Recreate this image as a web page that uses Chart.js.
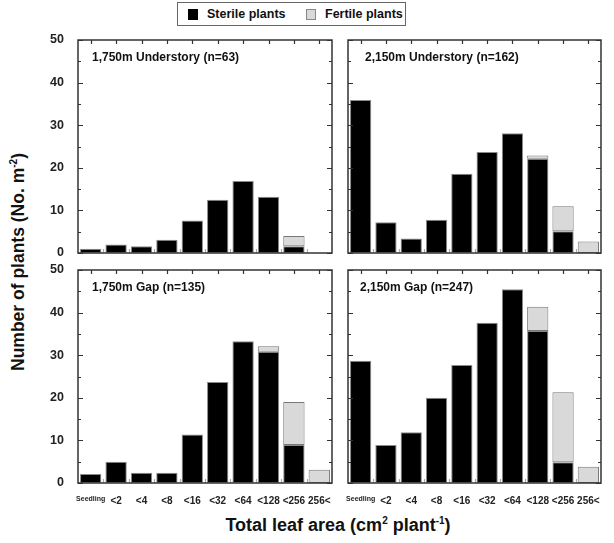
<!DOCTYPE html>
<html>
<head>
<meta charset="utf-8">
<script src="https://cdn.jsdelivr.net/npm/chart.js@4.4.0/dist/chart.umd.min.js"></script>
<style>
  body { margin: 0; background: #fff; }
  #wrap { position: relative; width: 614px; height: 543px; font-family: "Liberation Sans", Arial, sans-serif; font-weight: bold; color: #111; }
  canvas { position: absolute; }
  #legend { position: absolute; left: 177px; top: 2px; width: 227px; height: 22px; border: 1px solid #666; font-size: 12.5px; }
  #legend span { position: absolute; top: 4px; }
  .sw { position: absolute; top: 6px; width: 10px; height: 11px; }
  #ytitle { position: absolute; left: 18px; top: 262px; transform: translate(-50%, -50%) rotate(-90deg); white-space: nowrap; font-size: 17.5px; }
  #xtitle { position: absolute; left: 338px; top: 525px; transform: translate(-50%, -50%); white-space: nowrap; font-size: 18px; }
  sup { font-size: 10px; vertical-align: 7px; }
</style>
</head>
<body>
<div id="wrap">
  <div id="legend">
    <div class="sw" style="left:10px;background:#000"></div><span style="left:29px">Sterile plants</span>
    <div class="sw" style="left:128px;background:#d9d9d9;border:1px solid #888;width:8px;height:9px"></div><span style="left:147px">Fertile plants</span>
  </div>
  <canvas id="c1" width="296" height="229" style="left:40px;top:32px"></canvas>
  <canvas id="c2" width="261" height="229" style="left:344px;top:32px"></canvas>
  <canvas id="c3" width="296" height="243" style="left:40px;top:262px"></canvas>
  <canvas id="c4" width="261" height="243" style="left:344px;top:262px"></canvas>
  <div id="ytitle">Number of plants (No. m<sup>-2</sup>)</div>
  <div id="xtitle">Total leaf area (cm<sup>2</sup> plant<sup>-1</sup>)</div>
</div>
<script>
const categories = ['Seedling', '<2', '<4', '<8', '<16', '<32', '<64', '<128', '<256', '256<'];

// values (No. m-2)
const sterile1750U = [1.0, 2.0, 1.6, 3.1, 7.6, 12.5, 16.9, 13.2, 1.6, 0];
const fertile1750U = [0, 0, 0, 0, 0, 0, 0, 0, 2.4, 0];
const sterile2150U = [35.9, 7.2, 3.4, 7.8, 18.6, 23.7, 28.1, 22.1, 5.1, 0];
const fertile2150U = [0, 0, 0, 0, 0, 0, 0, 0.8, 5.9, 2.7];
const sterile1750G = [2.1, 5.0, 2.4, 2.4, 11.4, 23.7, 33.3, 30.8, 8.9, 0];
const fertile1750G = [0, 0, 0, 0, 0, 0, 0, 1.3, 10.1, 3.1];
const sterile2150G = [28.7, 8.9, 11.9, 20.0, 27.7, 37.6, 45.5, 35.7, 4.9, 0];
const fertile2150G = [0, 0, 0, 0, 0, 0, 0, 5.7, 16.4, 3.8];

const panelLabels = {
  c1: ['1,750m Understory (n=63)', 14],
  c2: ['2,150m Understory (n=162)', 17],
  c3: ['1,750m Gap (n=135)', 14],
  c4: ['2,150m Gap (n=247)', 12]
};

// frame, inward ticks and panel label
const framePlugin = {
  id: 'frame',
  afterDraw(chart) {
    const ctx = chart.ctx;
    const a = chart.chartArea;
    const x = chart.scales.x, y = chart.scales.y;
    ctx.save();
    ctx.strokeStyle = '#333333';
    ctx.lineWidth = 1.2;
    ctx.beginPath();
    for (let v = 0; v <= 50; v += 5) {
      const py = Math.round(y.getPixelForValue(v)) + 0.5;
      const len = v % 10 === 0 ? 5 : 3;
      ctx.moveTo(a.left, py); ctx.lineTo(a.left + len, py);
      ctx.moveTo(a.right, py); ctx.lineTo(a.right - len, py);
    }
    for (let i = 0; i < categories.length; i++) {
      const px = Math.round(x.getPixelForValue(i)) + 0.5;
      ctx.moveTo(px, a.top); ctx.lineTo(px, a.top + 4);
    }
    ctx.stroke();
    ctx.strokeStyle = '#aaaaaa';
    ctx.beginPath();
    for (let i = 1; i < categories.length; i++) {
      const px = Math.round((x.getPixelForValue(i - 1) + x.getPixelForValue(i)) / 2) + 0.5;
      ctx.moveTo(px, a.bottom); ctx.lineTo(px, a.bottom - 4);
    }
    ctx.stroke();
    ctx.strokeStyle = '#333333';
    ctx.lineWidth = 1.5;
    ctx.strokeRect(a.left, a.top, a.right - a.left, a.bottom - a.top);
    const lab = panelLabels[chart.canvas.id];
    ctx.fillStyle = '#111111';
    ctx.font = 'bold 12px "Liberation Sans", Arial, sans-serif';
    ctx.textBaseline = 'middle';
    ctx.textAlign = 'left';
    ctx.fillText(lab[0], a.left + lab[1], a.top + 18);
    ctx.restore();
  }
};

function nz(arr) { return arr.map(v => v === 0 ? null : v); }

function makePanel(id, sterile, fertile, showY, showX) {
  new Chart(document.getElementById(id), {
    type: 'bar',
    data: {
      labels: categories,
      datasets: [
        { label: 'Sterile plants', data: nz(sterile), backgroundColor: '#000', borderColor: '#8a8a8a', borderWidth: 1, borderSkipped: false },
        { label: 'Fertile plants', data: nz(fertile), backgroundColor: '#d9d9d9', borderColor: '#777', borderWidth: 1, borderSkipped: false }
      ]
    },
    options: {
      responsive: false,
      animation: false,
      layout: { padding: { top: 8, right: 4, bottom: showX ? 0 : 8, left: showY ? 0 : 4 } },
      barPercentage: 0.84,
      categoryPercentage: 1,
      plugins: {
        legend: { display: false },
        tooltip: { enabled: false }
      },
      scales: {
        x: {
          stacked: true,
          display: showX,
          grid: { display: false },
          border: { display: false },
          ticks: {
            color: '#222',
            maxRotation: 0,
            autoSkip: false,
            padding: 4,
            font: ctx => ({ family: '"Liberation Sans", Arial, sans-serif', weight: 'bold', size: ctx.index === 0 ? 7 : 10 })
          },
          afterFit: s => { if (showX) { s.height = 22; s.paddingLeft = 0; s.paddingRight = 0; } }
        },
        y: {
          stacked: true,
          display: showY,
          min: 0,
          max: 50,
          grid: { display: false },
          border: { display: false },
          ticks: {
            stepSize: 10,
            color: '#222',
            padding: 6,
            font: { family: '"Liberation Sans", Arial, sans-serif', weight: 'bold', size: 12.5 }
          },
          afterFit: s => { if (showY) { s.width = 38; s.paddingTop = 0; s.paddingBottom = 0; } }
        }
      }
    },
    plugins: [framePlugin]
  });
}

makePanel('c1', sterile1750U, fertile1750U, true, false);
makePanel('c2', sterile2150U, fertile2150U, false, false);
makePanel('c3', sterile1750G, fertile1750G, true, true);
makePanel('c4', sterile2150G, fertile2150G, false, true);
</script>
</body>
</html>
